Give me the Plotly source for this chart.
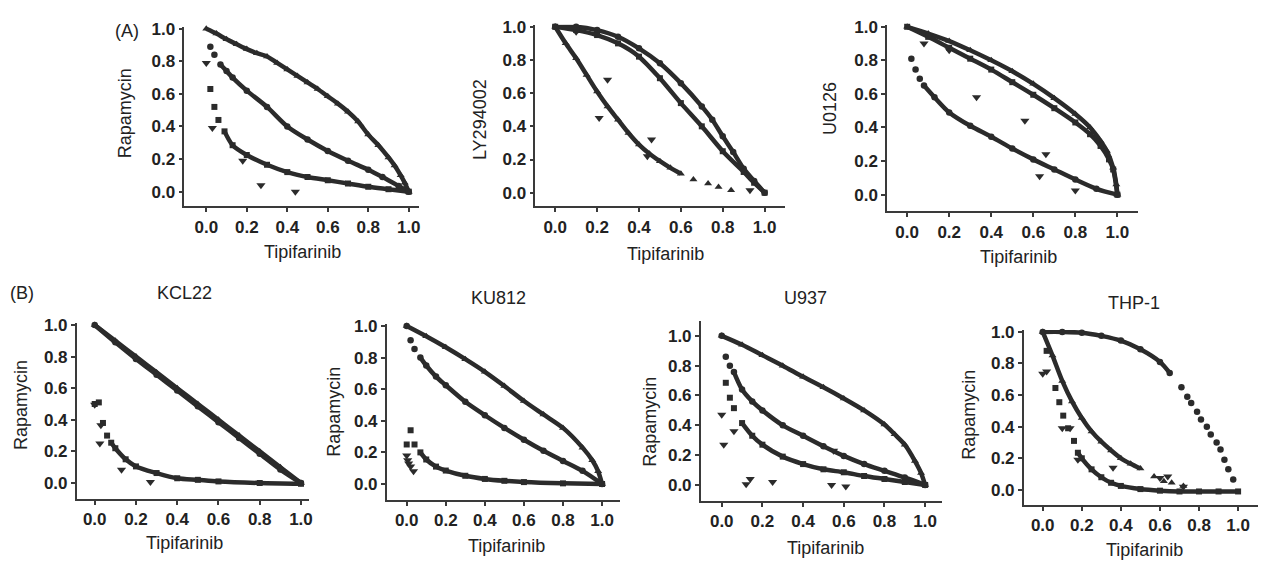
import plotly.graph_objects as go

W, H = 1270, 562
INK = "#2b2b2b"
AXC = "#3a3a3a"
FONT = "Liberation Sans, Arial, sans-serif"

TICKS = [0.0, 0.2, 0.4, 0.6, 0.8, 1.0]

# ---------------- Panel A1 : Rapamycin vs Tipifarinib ----------------
A1_up_x = [0, 0.05, 0.1, 0.15, 0.2, 0.25, 0.3, 0.35, 0.4, 0.45, 0.5, 0.55, 0.6, 0.65, 0.7, 0.75, 0.8, 0.85, 0.9, 0.93, 0.96, 0.98, 1.0]
A1_up_y = [1.0, 0.97, 0.935, 0.905, 0.875, 0.85, 0.83, 0.79, 0.75, 0.71, 0.67, 0.63, 0.585, 0.54, 0.49, 0.43, 0.35, 0.285, 0.21, 0.16, 0.1, 0.055, 0.0]
A1_ci_x = [0.02, 0.04, 0.07, 0.1, 0.13, 0.2, 0.3, 0.4, 0.5, 0.6, 0.7, 0.8, 0.87, 0.95, 1.0]
A1_ci_y = [0.89, 0.84, 0.78, 0.74, 0.70, 0.62, 0.52, 0.40, 0.32, 0.25, 0.19, 0.135, 0.09, 0.035, 0.0]
A1_sq_x = [0.02, 0.04, 0.06, 0.09, 0.13, 0.2, 0.3, 0.4, 0.5, 0.6, 0.7, 0.8, 0.9, 1.0]
A1_sq_y = [0.63, 0.52, 0.44, 0.37, 0.285, 0.225, 0.165, 0.12, 0.09, 0.07, 0.05, 0.03, 0.015, 0.0]
A1_dn_x = [0.0, 0.03, 0.18, 0.27, 0.44]
A1_dn_y = [0.79, 0.39, 0.19, 0.04, 0.0]

# ---------------- Panel A2 : LY294002 vs Tipifarinib ----------------
A2_ci_x = [0, 0.1, 0.2, 0.3, 0.4, 0.5, 0.6, 0.7, 0.75, 0.8, 0.85, 0.9, 0.95, 1.0]
A2_ci_y = [1.0, 1.0, 0.98, 0.94, 0.87, 0.78, 0.66, 0.52, 0.44, 0.34, 0.245, 0.145, 0.07, 0.0]
A2_sq_x = [0, 0.1, 0.2, 0.3, 0.4, 0.5, 0.6, 0.7, 0.8, 0.9, 0.95, 1.0]
A2_sq_y = [1.0, 0.98, 0.95, 0.9, 0.82, 0.69, 0.54, 0.40, 0.25, 0.125, 0.06, 0.0]
A2_up_x = [0, 0.05, 0.1, 0.15, 0.2, 0.25, 0.3, 0.35, 0.4, 0.45, 0.5, 0.55, 0.6, 0.66, 0.73, 0.78, 0.84]
A2_up_y = [1.0, 0.9, 0.81, 0.71, 0.61, 0.52, 0.44, 0.36, 0.29, 0.235, 0.19, 0.15, 0.115, 0.08, 0.055, 0.035, 0.015]
A2_dn_x = [0.1, 0.25, 0.21, 0.46, 0.44, 0.93]
A2_dn_y = [0.97, 0.68, 0.45, 0.32, 0.22, 0.015]

# ---------------- Panel A3 : U0126 vs Tipifarinib ----------------
A3_up_x = [0, 0.1, 0.2, 0.3, 0.4, 0.5, 0.6, 0.7, 0.8, 0.87, 0.92, 0.95, 0.98, 0.995, 1.0]
A3_up_y = [1.0, 0.96, 0.915, 0.86, 0.8, 0.735, 0.66, 0.575, 0.48, 0.4, 0.32, 0.26, 0.16, 0.06, 0.0]
A3_sq_x = [0, 0.1, 0.2, 0.3, 0.4, 0.5, 0.6, 0.7, 0.8, 0.87, 0.92, 0.96, 0.98, 1.0]
A3_sq_y = [1.0, 0.94, 0.875, 0.81, 0.745, 0.67, 0.595, 0.515, 0.43, 0.36, 0.29, 0.21, 0.15, 0.0]
A3_ci_x = [0.02, 0.04, 0.06, 0.08, 0.13, 0.2, 0.3, 0.4, 0.5, 0.6, 0.7, 0.8, 0.9, 1.0]
A3_ci_y = [0.81, 0.745, 0.69, 0.65, 0.58, 0.49, 0.41, 0.345, 0.275, 0.21, 0.15, 0.09, 0.035, 0.0]
A3_dn_x = [0.08, 0.2, 0.33, 0.56, 0.66, 0.63, 0.8]
A3_dn_y = [0.9, 0.86, 0.58, 0.44, 0.24, 0.11, 0.025]

# ---------------- Panel B1 : KCL22 ----------------
B1_up_x = [0, 0.1, 0.2, 0.3, 0.4, 0.5, 0.6, 0.7, 0.8, 0.9, 1.0]
B1_up_y = [1.0, 0.9, 0.8, 0.7, 0.6, 0.5, 0.4, 0.3, 0.2, 0.1, 0.0]
B1_ci_x = [0, 0.1, 0.2, 0.3, 0.4, 0.5, 0.6, 0.7, 0.8, 0.9, 1.0]
B1_ci_y = [1.0, 0.89, 0.785, 0.685, 0.585, 0.485, 0.385, 0.285, 0.185, 0.085, 0.0]
B1_sq_x = [0.0, 0.02, 0.04, 0.06, 0.08, 0.1, 0.15, 0.2, 0.3, 0.4, 0.5, 0.6, 0.8, 1.0]
B1_sq_y = [0.5, 0.51, 0.38, 0.30, 0.255, 0.22, 0.15, 0.105, 0.063, 0.03, 0.02, 0.01, 0.0, -0.005]
B1_dn_x = [0.0, 0.03, 0.025, 0.13, 0.27]
B1_dn_y = [0.495, 0.366, 0.25, 0.084, 0.006]

# ---------------- Panel B2 : KU812 ----------------
B2_up_x = [0, 0.1, 0.2, 0.3, 0.4, 0.5, 0.6, 0.7, 0.8, 0.9, 0.95, 0.98, 1.0]
B2_up_y = [1.0, 0.935, 0.865, 0.79, 0.71, 0.62, 0.525, 0.44, 0.355, 0.23, 0.15, 0.08, 0.0]
B2_ci_x = [0.0, 0.02, 0.04, 0.07, 0.1, 0.15, 0.2, 0.3, 0.4, 0.5, 0.6, 0.7, 0.8, 0.9, 1.0]
B2_ci_y = [1.0, 0.91, 0.855, 0.8, 0.75, 0.68, 0.625, 0.52, 0.435, 0.355, 0.28, 0.21, 0.146, 0.083, 0.0]
B2_sq_x = [0.0, 0.02, 0.04, 0.07, 0.1, 0.15, 0.2, 0.3, 0.4, 0.5, 0.6, 0.8, 1.0]
B2_sq_y = [0.25, 0.34, 0.25, 0.2, 0.155, 0.11, 0.085, 0.052, 0.032, 0.02, 0.012, 0.004, 0.0]
B2_dn_x = [0.0, 0.005, 0.01, 0.02, 0.035]
B2_dn_y = [0.18, 0.15, 0.13, 0.11, 0.08]

# ---------------- Panel B3 : U937 ----------------
B3_up_x = [0, 0.1, 0.2, 0.3, 0.4, 0.5, 0.6, 0.7, 0.8, 0.85, 0.9, 0.95, 0.98, 1.0]
B3_up_y = [1.0, 0.94, 0.87, 0.8, 0.725, 0.655, 0.58, 0.5, 0.405, 0.34, 0.27, 0.16, 0.08, 0.0]
B3_ci_x = [0.0, 0.02, 0.04, 0.06, 0.1, 0.15, 0.2, 0.3, 0.4, 0.5, 0.6, 0.7, 0.8, 0.9, 1.0]
B3_ci_y = [1.0, 0.86, 0.8, 0.757, 0.64, 0.56, 0.5, 0.4, 0.33, 0.26, 0.195, 0.14, 0.095, 0.05, 0.0]
B3_sq_x = [0.02, 0.04, 0.06, 0.1, 0.15, 0.2, 0.3, 0.4, 0.5, 0.6, 0.7, 0.8, 0.9, 1.0]
B3_sq_y = [0.685, 0.585, 0.515, 0.415, 0.33, 0.27, 0.19, 0.14, 0.105, 0.085, 0.06, 0.04, 0.02, 0.0]
B3_dn_x = [0.0, 0.01, 0.06, 0.12, 0.14, 0.25, 0.54, 0.61, 0.55]
B3_dn_y = [0.47, 0.27, 0.36, 0.005, 0.04, 0.02, 0.0, -0.01, 0.23]

# ---------------- Panel B4 : THP-1 ----------------
B4_ci_x = [0, 0.1, 0.2, 0.3, 0.4, 0.5, 0.6, 0.65, 0.71, 0.74, 0.76, 0.79, 0.81, 0.84, 0.86, 0.89, 0.91, 0.93, 0.95, 0.975]
B4_ci_y = [1.0, 1.0, 0.995, 0.975, 0.945, 0.89, 0.81, 0.74, 0.65, 0.59, 0.55, 0.495, 0.445, 0.4, 0.35, 0.3, 0.255, 0.19, 0.13, 0.065]
B4_up_x = [0, 0.05, 0.1, 0.15, 0.2, 0.25, 0.3, 0.35, 0.4, 0.45, 0.5, 0.57, 0.62, 0.66, 0.72]
B4_up_y = [1.0, 0.85, 0.69, 0.56, 0.455, 0.37, 0.305, 0.25, 0.2, 0.165, 0.135, 0.085, 0.055, 0.045, 0.025]
B4_sq_x = [0.02, 0.065, 0.085, 0.105, 0.13, 0.16, 0.18, 0.2, 0.25, 0.3, 0.35, 0.4, 0.5, 0.6, 0.7, 0.8, 0.9, 1.0]
B4_sq_y = [0.88, 0.645, 0.555, 0.47, 0.39, 0.31, 0.235, 0.2, 0.13, 0.08, 0.045, 0.025, 0.005, -0.005, -0.01, -0.01, -0.01, -0.01]
B4_dn_x = [0.0, 0.02, 0.1, 0.14, 0.18, 0.36, 0.6, 0.64, 0.72]
B4_dn_y = [0.735, 0.75, 0.39, 0.39, 0.19, 0.14, 0.075, 0.085, 0.02]

# ---------------- Text ----------------
PANEL_TITLES = ["", "", "", "KCL22", "KU812", "U937", "THP-1"]
Y_TITLES = ["Rapamycin", "LY294002", "U0126", "Rapamycin", "Rapamycin", "Rapamycin", "Rapamycin"]
X_TITLE = "Tipifarinib"

# layout (pixel boxes: left, right, top, bottom) and axis ranges
PANELS = [
    dict(box=(185, 420, 20, 202), xr=(-0.108, 1.049), yr=(-0.091, 1.012),
         ytp=(125, 108), xtp=(303, 248), ttp=None,
         series=[(A1_up_x, A1_up_y, "triangle-up", 0, 23), (A1_ci_x, A1_ci_y, "circle", 2, 15),
                 (A1_sq_x, A1_sq_y, "square", 3, 14), (A1_dn_x, A1_dn_y, "triangle-down", 0, 0)]),
    dict(box=(537, 787, 18, 202), xr=(-0.095, 1.095), yr=(-0.083, 1.012),
         ytp=(481, 114), xtp=(668, 250), ttp=None,
         series=[(A2_ci_x, A2_ci_y, "circle", 0, 14), (A2_sq_x, A2_sq_y, "square", 0, 12),
                 (A2_up_x, A2_up_y, "triangle-up", 0, 13), (A2_dn_x, A2_dn_y, "triangle-down", 0, 0)]),
    dict(box=(890, 1142, 18, 207), xr=(-0.095, 1.100), yr=(-0.1, 1.012),
         ytp=(832, 103), xtp=(1022, 253), ttp=None,
         series=[(A3_up_x, A3_up_y, "triangle-up", 0, 15), (A3_sq_x, A3_sq_y, "square", 0, 14),
                 (A3_ci_x, A3_ci_y, "circle", 3, 14), (A3_dn_x, A3_dn_y, "triangle-down", 0, 0)]),
    dict(box=(77, 310, 320, 498), xr=(-0.087, 1.039), yr=(-0.1, 1.0125),
         ytp=(21, 403), xtp=(185, 543), ttp=(185, 290),
         series=[(B1_up_x, B1_up_y, "triangle-up", 0, 11), (B1_ci_x, B1_ci_y, "circle", 0, 11),
                 (B1_sq_x, B1_sq_y, "square", 4, 14), (B1_dn_x, B1_dn_y, "triangle-down", 0, 0)]),
    dict(box=(388, 622, 321, 499), xr=(-0.102, 1.092), yr=(-0.1, 1.0125),
         ytp=(335, 410), xtp=(508, 546), ttp=(500, 295),
         series=[(B2_up_x, B2_up_y, "triangle-up", 0, 13), (B2_ci_x, B2_ci_y, "circle", 3, 15),
                 (B2_sq_x, B2_sq_y, "square", 3, 13), (B2_dn_x, B2_dn_y, "triangle-down", 0, 0)]),
    dict(box=(703, 945, 318, 500), xr=(-0.103, 1.083), yr=(-0.106, 1.099),
         ytp=(652, 420), xtp=(828, 548), ttp=(808, 295),
         series=[(B3_up_x, B3_up_y, "triangle-up", 0, 14), (B3_ci_x, B3_ci_y, "circle", 3, 15),
                 (B3_sq_x, B3_sq_y, "square", 3, 14), (B3_dn_x, B3_dn_y, "triangle-down", 0, 0)]),
    dict(box=(1027, 1262, 327, 504), xr=(-0.097, 1.102), yr=(-0.094, 1.0125),
         ytp=(972, 413), xtp=(1148, 550), ttp=(1138, 300),
         series=[(B4_ci_x, B4_ci_y, "circle", 0, 8), (B4_up_x, B4_up_y, "triangle-up", 0, 11),
                 (B4_sq_x, B4_sq_y, "square", 6, 18), (B4_dn_x, B4_dn_y, "triangle-down", 0, 0)]),
]

SIZES = {"circle": 6.5, "square": 6, "triangle-up": 7, "triangle-down": 8}

fig = go.Figure()
annotations = []

for i, p in enumerate(PANELS):
    n = i + 1
    xa = "x" if n == 1 else f"x{n}"
    ya = "y" if n == 1 else f"y{n}"
    l, r, t, b = p["box"]
    common = dict(tickvals=TICKS, tickformat=".1f", ticks="outside", ticklen=4, tickwidth=1.5,
                  tickcolor=AXC, showline=True, linecolor=AXC, linewidth=1.6,
                  showgrid=False, zeroline=False,
                  tickfont=dict(family=FONT, size=17, color="#222", weight="bold"))
    fig.layout[f"xaxis{'' if n == 1 else n}"] = dict(
        domain=[l / W, r / W], range=list(p["xr"]), anchor=ya, **common)
    fig.layout[f"yaxis{'' if n == 1 else n}"] = dict(
        domain=[1 - b / H, 1 - t / H], range=list(p["yr"]), anchor=xa, **common)

    for (sx, sy, sym, a, e) in p["series"]:
        if e - a >= 2:
            fig.add_trace(go.Scatter(
                x=sx[a:e], y=sy[a:e], mode="lines", xaxis=xa, yaxis=ya,
                line=dict(color=INK, width=4.5, shape="spline", smoothing=0.8),
                hoverinfo="skip", showlegend=False, cliponaxis=False))
        fig.add_trace(go.Scatter(
            x=sx, y=sy, mode="markers", xaxis=xa, yaxis=ya,
            marker=dict(symbol=sym, size=SIZES[sym], color=INK, line=dict(width=0)),
            showlegend=False, cliponaxis=False))

    yx, yy = p["ytp"]
    annotations.append(dict(text=Y_TITLES[i], x=yx / W, y=1 - yy / H, xref="paper", yref="paper",
                            showarrow=False, textangle=-90, xanchor="center", yanchor="middle",
                            font=dict(family=FONT, size=18, color="#222")))
    xx, xy = p["xtp"]
    annotations.append(dict(text=X_TITLE, x=xx / W, y=1 - xy / H, xref="paper", yref="paper",
                            showarrow=False, xanchor="center", yanchor="middle",
                            font=dict(family=FONT, size=18, color="#222")))
    if p["ttp"] is not None:
        tx, ty = p["ttp"]
        annotations.append(dict(text=PANEL_TITLES[i], x=tx / W, y=1 - ty / H, xref="paper", yref="paper",
                                showarrow=False, xanchor="center", yanchor="middle",
                                font=dict(family=FONT, size=18, color="#222")))

annotations.append(dict(text="(A)", x=127 / W, y=1 - 24 / H, xref="paper", yref="paper",
                        showarrow=False, xanchor="center", yanchor="middle",
                        font=dict(family=FONT, size=18, color="#222")))
annotations.append(dict(text="(B)", x=22 / W, y=1 - 290 / H, xref="paper", yref="paper",
                        showarrow=False, xanchor="center", yanchor="middle",
                        font=dict(family=FONT, size=18, color="#222")))

fig.update_layout(width=W, height=H, margin=dict(l=0, r=0, t=0, b=0),
                  paper_bgcolor="white", plot_bgcolor="white",
                  annotations=annotations, showlegend=False)

fig.write_html("out.html", config={"displayModeBar": False},
               post_script="document.body.style.margin='0';document.body.style.overflow='hidden';")
